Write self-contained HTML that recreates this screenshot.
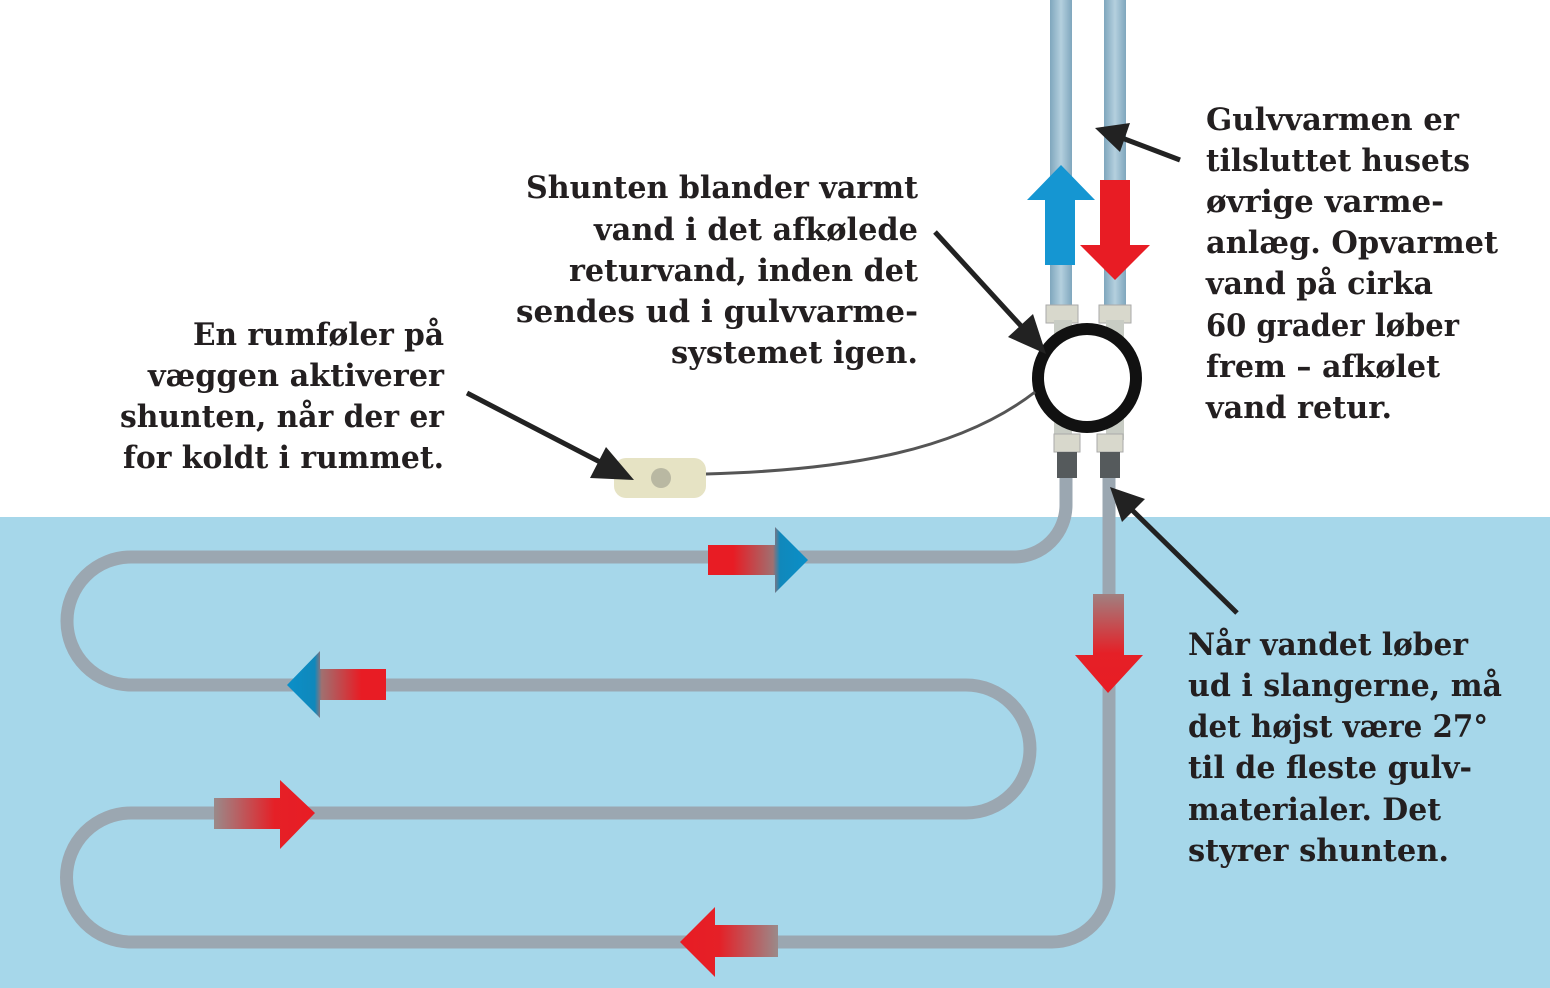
<!DOCTYPE html>
<html><head><meta charset="utf-8"><style>html,body{margin:0;padding:0;background:#fff}svg{display:block}
text{font-family:"DejaVu Serif","Liberation Serif",serif;font-weight:bold;font-size:31px;fill:#231f20}</style></head>
<body>
<svg width="1550" height="988" viewBox="0 0 1550 988" xmlns="http://www.w3.org/2000/svg">
<defs>
<linearGradient id="rb" x1="0" x2="1"><stop offset="0.25" stop-color="#e81c24"/><stop offset="0.65" stop-color="#a07070"/><stop offset="0.72" stop-color="#1088bb"/><stop offset="1" stop-color="#0a8fc8"/></linearGradient>
<linearGradient id="br" x1="1" x2="0"><stop offset="0.25" stop-color="#e81c24"/><stop offset="0.65" stop-color="#a07070"/><stop offset="0.72" stop-color="#1088bb"/><stop offset="1" stop-color="#0a8fc8"/></linearGradient>
<linearGradient id="gr" x1="0" x2="1"><stop offset="0" stop-color="#9a8a8a"/><stop offset="0.6" stop-color="#e52027"/><stop offset="1" stop-color="#e81c24"/></linearGradient>
<linearGradient id="rg" x1="1" x2="0"><stop offset="0" stop-color="#9a8a8a"/><stop offset="0.6" stop-color="#e52027"/><stop offset="1" stop-color="#e81c24"/></linearGradient>
<linearGradient id="gdv" x1="0" y1="0" x2="0" y2="1"><stop offset="0" stop-color="#a08080"/><stop offset="0.6" stop-color="#e52027"/><stop offset="1" stop-color="#e81c24"/></linearGradient>
<linearGradient id="pipe" x1="0" x2="1"><stop offset="0" stop-color="#7fa6bd"/><stop offset="0.5" stop-color="#b4d0de"/><stop offset="1" stop-color="#7fa6bd"/></linearGradient>
</defs>
<rect x="0" y="517" width="1550" height="471" fill="#a6d7ea"/>
<!-- upper pipes -->
<rect x="1050" y="0" width="22" height="310" fill="url(#pipe)"/>
<rect x="1104" y="0" width="22" height="310" fill="url(#pipe)"/>
<!-- nuts -->
<rect x="1046" y="305" width="32" height="18" fill="#d8d8cc" stroke="#aaa" stroke-width="1"/>
<rect x="1099" y="305" width="32" height="18" fill="#d8d8cc" stroke="#aaa" stroke-width="1"/>
<rect x="1054" y="320" width="18" height="120" fill="#c8ccc4"/>
<rect x="1106" y="320" width="18" height="120" fill="#c8ccc4"/>
<rect x="1054" y="434" width="26" height="18" fill="#d8d8cc" stroke="#aaa" stroke-width="1"/>
<rect x="1097" y="434" width="26" height="18" fill="#d8d8cc" stroke="#aaa" stroke-width="1"/>
<rect x="1057" y="452" width="20" height="26" fill="#555a5c"/>
<rect x="1100" y="452" width="20" height="26" fill="#555a5c"/>
<!-- floor loop -->
<path d="M1066 478 V505 A52 52 0 0 1 1014 557 H131 A64 64 0 0 0 131 685 H966 A64 64 0 0 1 966 813 H131 A64.5 64.5 0 0 0 131 942 H1052 A57 57 0 0 0 1109 885 V478" fill="none" stroke="#9ba7b1" stroke-width="13"/>
<!-- circle -->
<circle cx="1087" cy="378" r="49" fill="#fff" stroke="#111" stroke-width="12"/>
<!-- cable & sensor -->
<path d="M706 474 C850 470 960 450 1035 392" fill="none" stroke="#555" stroke-width="3"/>
<rect x="614" y="458" width="92" height="40" rx="12" fill="#e6e3c4"/>
<circle cx="661" cy="478" r="10" fill="#b9b8a2"/>
<!-- vertical arrows -->
<polygon points="1045,265 1075,265 1075,200 1095,200 1061,165 1027,200 1045,200" fill="#1596d2"/>
<polygon points="1100,180 1130,180 1130,245 1150,245 1115,280 1080,245 1100,245" fill="#e81c24"/>
<!-- floor arrows -->
<polygon points="708,545 775,545 775,527 808,560 775,593 775,575 708,575" fill="url(#rb)"/>
<polygon points="386,669 320,669 320,651 287,685 320,718 320,700 386,700" fill="url(#br)"/>
<polygon points="214,798 280,798 280,780 315,813 280,849 280,829 214,829" fill="url(#gr)"/>
<polygon points="778,925 715,925 715,907 680,942 715,977 715,957 778,957" fill="url(#rg)"/>
<polygon points="1093,594 1124,594 1124,655 1143,655 1108,693 1075,655 1093,655" fill="url(#gdv)"/>
<!-- callout arrows -->
<g stroke="#222" stroke-width="5" fill="#222">
<line x1="935" y1="232" x2="1022" y2="327"/>
<line x1="467" y1="393" x2="600" y2="462"/>
<line x1="1180" y1="160" x2="1122" y2="138"/>
<line x1="1237" y1="613" x2="1130" y2="508"/>
</g>
<g fill="#222">
<polygon points="1046,354 1008,337 1033,314"/>
<polygon points="634,480 590,478 606,447"/>
<polygon points="1095,128 1130,123 1120,152"/>
<polygon points="1110,487 1145,499 1122,522"/>
</g>
<!-- texts -->
<g text-anchor="start">
<text x="526" y="198" textLength="392" lengthAdjust="spacingAndGlyphs">Shunten blander varmt</text>
<text x="594" y="240" textLength="324" lengthAdjust="spacingAndGlyphs">vand i det afkølede</text>
<text x="569" y="281" textLength="349" lengthAdjust="spacingAndGlyphs">returvand, inden det</text>
<text x="516" y="322" textLength="402" lengthAdjust="spacingAndGlyphs">sendes ud i gulvvarme-</text>
<text x="671" y="363" textLength="247" lengthAdjust="spacingAndGlyphs">systemet igen.</text>

<text x="193" y="345" textLength="251" lengthAdjust="spacingAndGlyphs">En rumføler på</text>
<text x="148" y="386" textLength="296" lengthAdjust="spacingAndGlyphs">væggen aktiverer</text>
<text x="120" y="427" textLength="324" lengthAdjust="spacingAndGlyphs">shunten, når der er</text>
<text x="123" y="468" textLength="321" lengthAdjust="spacingAndGlyphs">for koldt i rummet.</text>

<text x="1206" y="130" textLength="253" lengthAdjust="spacingAndGlyphs">Gulvvarmen er</text>
<text x="1206" y="171" textLength="264" lengthAdjust="spacingAndGlyphs">tilsluttet husets</text>
<text x="1206" y="212" textLength="238" lengthAdjust="spacingAndGlyphs">øvrige varme-</text>
<text x="1206" y="253" textLength="292" lengthAdjust="spacingAndGlyphs">anlæg. Opvarmet</text>
<text x="1206" y="294" textLength="227" lengthAdjust="spacingAndGlyphs">vand på cirka</text>
<text x="1206" y="336" textLength="253" lengthAdjust="spacingAndGlyphs">60 grader løber</text>
<text x="1206" y="377" textLength="234" lengthAdjust="spacingAndGlyphs">frem – afkølet</text>
<text x="1206" y="418" textLength="186" lengthAdjust="spacingAndGlyphs">vand retur.</text>

<text x="1188" y="655" textLength="280" lengthAdjust="spacingAndGlyphs">Når vandet løber</text>
<text x="1188" y="696" textLength="314" lengthAdjust="spacingAndGlyphs">ud i slangerne, må</text>
<text x="1188" y="737" textLength="300" lengthAdjust="spacingAndGlyphs">det højst være 27°</text>
<text x="1188" y="778" textLength="284" lengthAdjust="spacingAndGlyphs">til de fleste gulv-</text>
<text x="1188" y="820" textLength="253" lengthAdjust="spacingAndGlyphs">materialer. Det</text>
<text x="1188" y="861" textLength="261" lengthAdjust="spacingAndGlyphs">styrer shunten.</text>
</g>
</svg>
</body></html>
